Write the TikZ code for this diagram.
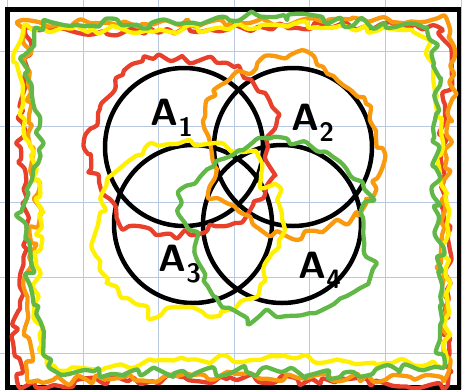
\documentclass[tikz,border=0pt]{standalone}
\usepackage{tikz}
\usepackage{xcolor}
\definecolor{gridblue}{HTML}{B9C9E2}
\definecolor{penred}{HTML}{E8402A}
\definecolor{penorange}{HTML}{F99A0E}
\definecolor{penyellow}{HTML}{FFF000}
\definecolor{pengreen}{HTML}{62B847}

% wobbly closed pen line through a list of x/y points (first point repeated at the end)
\newcommand{\scribbleloop}[4]{%
  \pgfmathsetseed{#2}%
  \gdef\wavepts{}%
  \foreach \px/\py [remember=\px as \lx (initially -1), remember=\py as \ly (initially -1)] in {#4}{%
    \ifdim\lx pt<0pt\else
      \pgfmathtruncatemacro\nn{max(1,round(veclen(\px-\lx,\py-\ly)/8))}%
      \foreach \k in {1,...,\nn}{%
        \pgfmathsetmacro\wx{\lx+(\px-\lx)*\k/\nn+#3*rand}%
        \pgfmathsetmacro\wy{\ly+(\py-\ly)*\k/\nn+#3*rand}%
        \xdef\wavepts{\wavepts(\wx,\wy) }%
      }%
    \fi
  }%
  \edef\wavecmd{\noexpand\draw[#1] plot[smooth cycle] coordinates {\wavepts};}%
  \wavecmd
}

\begin{document}
\begin{tikzpicture}[x=1pt,y=-1pt,
    setcircle/.style={line width=4.5pt},
    pen/.style={line width=4.3pt,line cap=round,line join=round},
    setlabel/.style={font=\sffamily\bfseries\fontsize{38}{38}\selectfont}]
  \useasboundingbox (0,0) rectangle (462,389);
  % Grid
  \foreach \gx in {0,...,6} \draw[gridblue,line width=0.8pt] (7.4+75.6*\gx,0) -- (7.4+75.6*\gx,389);
  \foreach \gy in {-1,...,4} \draw[gridblue,line width=0.8pt] (0,51+75.6*\gy) -- (462,51+75.6*\gy);
  % Frame
  \draw[line width=4.5pt] (7.5,9.5) rectangle (459,387.5);
  % Sets
  \draw[setcircle] (184,147) circle (79);
  \draw[setcircle] (293,147) circle (79);
  \draw[setcircle] (193,224) circle (79);
  \draw[setcircle] (282,224) circle (79);
  % Labels
  \node[setlabel] (a1) at (172,118) {A\textsubscript{1}};
  \node[setlabel] (a2) at (313,123) {A\textsubscript{2}};
  \node[setlabel] (a3) at (180,264) {A\textsubscript{3}};
  \node[setlabel] (a4) at (320,270) {A\textsubscript{4}};
  % Outer scribbles
  \scribbleloop{pen,penred}{11}{4.5}{28/30, 140/32, 240/28, 340/25, 440/28, 450/60, 442/150, 448/250, 445/330, 452/385, 340/382, 240/378, 120/380, 22/386, 15/330, 28/250, 20/150, 25/70, 28/30}
  \scribbleloop{pen,penorange}{23}{4.5}{20/22, 130/25, 240/23, 340/20, 445/20, 455/60, 448/150, 440/260, 447/340, 448/378, 340/378, 240/375, 130/378, 30/382, 25/300, 38/200, 30/120, 28/50, 20/22}
  \scribbleloop{pen,penyellow}{37}{4.5}{22/28, 130/30, 240/27, 340/25, 425/35, 435/90, 445/200, 450/300, 445/365, 340/360, 230/358, 130/365, 45/368, 35/300, 40/200, 25/120, 15/60, 22/28}
  \scribbleloop{pen,pengreen}{41}{5.5}{45/20, 140/25, 240/15, 340/20, 430/30, 440/90, 435/200, 445/300, 440/365, 340/375, 240/370, 120/375, 50/370, 35/300, 20/220, 40/150, 25/60, 45/20}
  % Inner scribbles
  \scribbleloop{pen,penred}{5}{4.5}{133/62, 170/58, 207/60, 240/70, 258/88, 278/112, 265/148, 275/172, 262/195, 245/215, 225/225, 195/232, 162/238, 125/225, 105/190, 88/165, 85/145, 100/110, 112/85, 133/62}
  \scribbleloop{pen,penorange}{7}{4.5}{252/66, 264/58, 291/52, 310/52, 320/70, 341/77, 358/93, 371/110, 376/135, 382/160, 372/195, 348/222, 302/235, 268/235, 240/210, 212/198, 215/165, 205/132, 208/105, 222/85, 240/74, 252/66}
  \scribbleloop{pen,penyellow}{13}{4}{108/180, 145/147, 195/143, 228/148, 252/152, 265/165, 262/185, 275/180, 282/205, 282/238, 268/262, 258/295, 238/310, 217/318, 183/308, 150/315, 125/298, 105/278, 93/245, 100/215, 108/180}
  \scribbleloop{pen,pengreen}{17}{3}{242/147, 268/138, 302/143, 338/162, 362/185, 372/198, 362/212, 364/252, 374/262, 371/280, 345/296, 318/312, 291/318, 264/310, 251/322, 231/310, 217/300, 205/280, 197/255, 195/232, 178/218, 180/195, 195/182, 212/165, 225/158, 242/147}
\end{tikzpicture}
\end{document}
